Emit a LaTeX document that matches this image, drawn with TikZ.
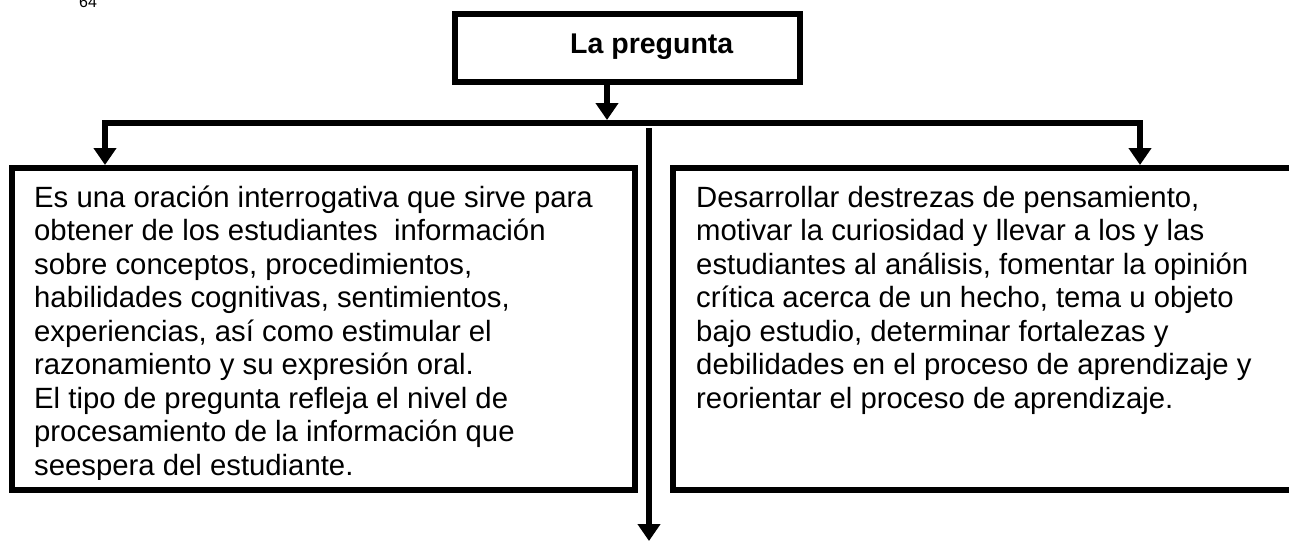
\documentclass[tikz,border=0pt]{standalone}
\usepackage{fontspec}
\setmainfont{Liberation Sans}
\usetikzlibrary{arrows.meta}
\begin{document}
\begin{tikzpicture}[x=1pt,y=-1pt,
  boxline/.style={draw=black, line width=6pt, fill=none},
  conn/.style={draw=black, line width=6pt},
  arr/.style={conn, -{Triangle[width=22pt,length=17pt]}},
  bodytext/.style={inner sep=0pt, anchor=base west, font=\fontsize{29.3}{33.5}\selectfont},
  titletext/.style={inner sep=0pt, anchor=base west, font=\fontsize{28.5}{33}\selectfont\bfseries},
  pagenum/.style={inner sep=0pt, anchor=base west, font=\fontsize{16}{18}\selectfont}
]
\useasboundingbox (0,0) rectangle (1289,543);
% page number, cut at the top
\node[pagenum] (pnum) at (79,8) {64};
% title box
\node[boxline, rectangle, minimum width=345pt, minimum height=68pt, inner sep=0pt] (title) at (627.5,48) {};
\node[titletext] (titlet) at (570,53) {La pregunta};
% content boxes
\node[boxline, rectangle, minimum width=623pt, minimum height=322pt, inner sep=0pt] (leftbox) at (323.5,329) {};
\node[boxline, rectangle, minimum width=640pt, minimum height=322pt, inner sep=0pt] (rightbox) at (993,329) {};
\begin{scope}
\clip (15,171) rectangle (632,479);
\node[bodytext] (lefttext) at (34,207) {\parbox[t]{600pt}{\raggedright
Es una oración interrogativa que sirve para\\
obtener de los estudiantes\ \ información\\
sobre conceptos, procedimientos,\\
habilidades cognitivas, sentimientos,\\
experiencias, así como estimular el\\
razonamiento y su expresión oral.\\
El tipo de pregunta refleja el nivel de\\
procesamiento de la información que\\
seespera del estudiante.}};
\end{scope}
\node[bodytext] (righttext) at (696,207) {\parbox[t]{600pt}{\raggedright
Desarrollar destrezas de pensamiento,\\
motivar la curiosidad y llevar a los y las\\
estudiantes al análisis, fomentar la opinión\\
crítica acerca de un hecho, tema u objeto\\
bajo estudio, determinar fortalezas y\\
debilidades en el proceso de aprendizaje y\\
reorientar el proceso de aprendizaje.}};
% connectors
\coordinate (busL) at (102,123);
\coordinate (busR) at (1143,123);
\coordinate (busM) at (607,123);
\coordinate (dropL) at (105,123);
\coordinate (dropR) at (1140,123);
\coordinate (vtop) at (649,128);
\coordinate (vend) at (649,541);
\draw[arr] (title.south -| busM) -- (busM |- 0,120);
\draw[conn] (busL) -- (busR);
\draw[arr] (dropL) -- (leftbox.north -| dropL);
\draw[arr] (dropR) -- (rightbox.north -| dropR);
\draw[arr] (vtop) -- (vend);
\end{tikzpicture}
\end{document}
